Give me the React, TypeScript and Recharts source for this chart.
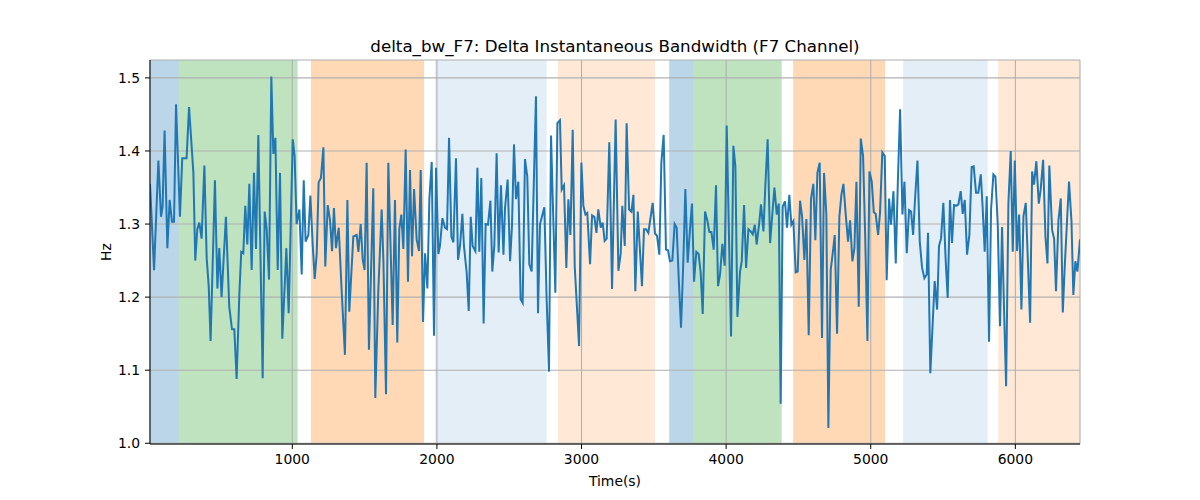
import React from 'react';
import {
  LineChart,
  Line,
  XAxis,
  YAxis,
  CartesianGrid,
  ReferenceArea,
  Label,
} from 'recharts';

// sample times (s), one block per stretch of the recording
const seconds = [
  16, 44, 74, 92, 103, 117, 136, 152, 168, 182, 196, 223, 239, 269, 286, 316, 329, 343, 357, 373,
  392, 408, 422, 435, 465, 482, 495, 511, 541, 564, 583, 599, 615, 634, 647, 661, 675, 689, 703, 719,
  735, 749, 765,
  795, 809, 823, 839, 855, 869, 883, 899, 915, 931, 959, 975, 1003, 1016, 1030, 1049, 1065, 1079, 1092, 1111,
  1125, 1141, 1155, 1169, 1182, 1198, 1215, 1228, 1245, 1261, 1275, 1288, 1302, 1321, 1341, 1364, 1381, 1394, 1422, 1445,
  1457, 1473, 1487, 1500, 1514, 1530, 1560, 1574, 1595,
  1618, 1630, 1648, 1664, 1694, 1710, 1726, 1740, 1754, 1768, 1784, 1800, 1814, 1828, 1842, 1860, 1876, 1888, 1904, 1918,
  1934, 1948, 1964, 1980, 1994, 2010, 2021, 2038, 2056, 2070, 2084, 2100, 2114, 2132, 2146, 2160, 2176, 2187, 2206, 2220,
  2234, 2247, 2266, 2280, 2293, 2307, 2323, 2337, 2353, 2370, 2383, 2397, 2413, 2427,
  2443, 2460, 2471, 2489, 2506, 2519, 2533, 2547, 2563, 2579, 2593, 2609, 2625, 2639, 2655, 2685, 2699, 2713, 2743, 2759,
  2775, 2789, 2819, 2833, 2851, 2863, 2879, 2895, 2909, 2923, 2939, 2953, 2983, 2999, 3013, 3027, 3040, 3059, 3073, 3089,
  3103, 3116, 3133, 3146, 3160, 3174, 3192, 3211, 3236, 3255,
  3271, 3282, 3299, 3312, 3329, 3345, 3359, 3372, 3389, 3418, 3432, 3446, 3462, 3492, 3508, 3522, 3538, 3552, 3568, 3584,
  3598, 3612, 3628, 3644, 3658, 3672, 3688, 3704, 3718, 3734, 3750, 3764, 3778, 3794, 3810, 3824, 3838, 3854, 3870, 3884,
  3898, 3914, 3930, 3944, 3958, 3974, 3990, 4004, 4034, 4050, 4064, 4078,
  4096, 4108, 4124, 4138, 4154, 4170, 4184, 4198, 4211, 4228, 4241, 4258, 4271, 4287, 4304, 4320, 4334, 4350, 4364, 4377,
  4391, 4407, 4421, 4437, 4451, 4465, 4481, 4495, 4511, 4525, 4541, 4555, 4571, 4587, 4603, 4617, 4631, 4647, 4663, 4677,
  4693, 4707, 4723, 4737, 4751, 4767, 4783, 4797, 4811, 4827, 4843, 4857, 4873, 4887, 4901, 4917,
  4931, 4947, 4961, 4977, 4991, 5007, 5021, 5034, 5051, 5064, 5080, 5097, 5110, 5127, 5140, 5157, 5173, 5187, 5203, 5219,
  5233, 5249, 5265, 5279, 5293, 5306, 5323, 5339, 5355, 5371, 5387, 5396, 5412, 5442, 5459, 5472, 5486, 5502, 5518, 5532,
  5548, 5562, 5576, 5592, 5606,
  5622, 5636, 5650, 5666, 5682, 5698, 5712, 5728, 5744, 5761, 5774, 5788, 5802, 5818, 5832, 5848, 5862, 5878, 5894, 5908,
  5922, 5936, 5952, 5968, 5982, 5996, 6012, 6026, 6042, 6056, 6072, 6102, 6116, 6129, 6145, 6162, 6175, 6192, 6208, 6222,
  6235, 6254, 6268, 6281, 6298, 6314, 6328, 6341, 6355, 6371, 6388, 6401, 6415, 6429, 6447,
];

// delta instantaneous bandwidth, F7 channel (Hz)
const bandwidthHz = [
  1.355, 1.237, 1.387, 1.31, 1.324, 1.428, 1.267, 1.333, 1.303, 1.303, 1.464, 1.31, 1.39, 1.39, 1.46, 1.37, 1.25, 1.293, 1.302, 1.28,
  1.38, 1.253, 1.215, 1.14, 1.36, 1.212, 1.267, 1.2, 1.31, 1.187, 1.156, 1.156, 1.088, 1.205, 1.262, 1.26, 1.325, 1.272, 1.355, 1.237,
  1.37, 1.266, 1.422,
  1.089, 1.317, 1.293, 1.224, 1.502, 1.396, 1.418, 1.237, 1.37, 1.143, 1.267, 1.178, 1.416, 1.393, 1.3, 1.32, 1.231, 1.36, 1.276, 1.285,
  1.339, 1.272, 1.225, 1.26, 1.357, 1.363, 1.405, 1.242, 1.326, 1.305, 1.263, 1.322, 1.267, 1.295, 1.21, 1.121, 1.333, 1.18, 1.283, 1.285,
  1.262, 1.3, 1.251, 1.237, 1.384, 1.128, 1.349, 1.062, 1.21,
  1.32, 1.25, 1.067, 1.384, 1.162, 1.333, 1.138, 1.293, 1.313, 1.266, 1.402, 1.221, 1.374, 1.256, 1.348, 1.279, 1.263, 1.374, 1.166, 1.26,
  1.212, 1.335, 1.385, 1.147, 1.377, 1.259, 1.27, 1.308, 1.295, 1.293, 1.418, 1.283, 1.275, 1.39, 1.251, 1.27, 1.314, 1.27, 1.233, 1.181,
  1.31, 1.27, 1.263, 1.377, 1.262, 1.363, 1.164, 1.3, 1.299, 1.332, 1.235, 1.27, 1.397, 1.261,
  1.353, 1.258, 1.322, 1.361, 1.249, 1.297, 1.409, 1.334, 1.358, 1.197, 1.192, 1.389, 1.365, 1.245, 1.235, 1.475, 1.178, 1.3, 1.323, 1.196,
  1.098, 1.421, 1.206, 1.438, 1.442, 1.347, 1.353, 1.24, 1.334, 1.285, 1.429, 1.242, 1.133, 1.384, 1.325, 1.313, 1.315, 1.245, 1.312, 1.31,
  1.288, 1.32, 1.295, 1.302, 1.277, 1.28, 1.412, 1.211, 1.443, 1.236,
  1.26, 1.325, 1.27, 1.438, 1.32, 1.317, 1.34, 1.208, 1.317, 1.215, 1.293, 1.293, 1.288, 1.329, 1.287, 1.284, 1.258, 1.384, 1.422, 1.265,
  1.264, 1.249, 1.25, 1.3, 1.295, 1.226, 1.158, 1.249, 1.348, 1.247, 1.293, 1.328, 1.221, 1.262, 1.259, 1.233, 1.177, 1.317, 1.305, 1.289,
  1.289, 1.265, 1.353, 1.215, 1.231, 1.273, 1.243, 1.435, 1.146, 1.407, 1.379, 1.173,
  1.235, 1.249, 1.326, 1.24, 1.293, 1.29, 1.286, 1.299, 1.272, 1.3, 1.327, 1.29, 1.352, 1.416, 1.274, 1.315, 1.35, 1.313, 1.328, 1.054,
  1.324, 1.331, 1.295, 1.34, 1.299, 1.304, 1.234, 1.235, 1.332, 1.311, 1.251, 1.307, 1.148, 1.335, 1.355, 1.278, 1.37, 1.384, 1.144, 1.37,
  1.313, 1.021, 1.237, 1.26, 1.285, 1.15, 1.31, 1.34, 1.355, 1.313, 1.276, 1.305, 1.249, 1.267, 1.358, 1.187,
  1.417, 1.393, 1.288, 1.14, 1.372, 1.358, 1.316, 1.314, 1.285, 1.315, 1.398, 1.393, 1.223, 1.335, 1.299, 1.345, 1.246, 1.355, 1.457, 1.313,
  1.358, 1.26, 1.319, 1.317, 1.285, 1.333, 1.387, 1.276, 1.24, 1.226, 1.231, 1.288, 1.096, 1.222, 1.183, 1.27, 1.28, 1.329, 1.251, 1.199,
  1.333, 1.274, 1.326, 1.325, 1.327,
  1.345, 1.314, 1.333, 1.258, 1.285, 1.378, 1.379, 1.343, 1.343, 1.368, 1.322, 1.262, 1.338, 1.139, 1.32, 1.368, 1.365, 1.3, 1.16, 1.296,
  1.181, 1.078, 1.329, 1.4, 1.262, 1.387, 1.263, 1.313, 1.183, 1.311, 1.329, 1.165, 1.372, 1.354, 1.386, 1.328, 1.347, 1.388, 1.283, 1.246,
  1.38, 1.292, 1.28, 1.208, 1.305, 1.335, 1.179, 1.24, 1.295, 1.358, 1.304, 1.203, 1.249, 1.235, 1.279,
];

// labelled stretches of the recording
const spanStart = [16, 216, 1129, 1987, 2837, 3606, 3776, 4463, 5224, 5881];
const spanEnd = [216, 1037, 1911, 2759, 3508, 3776, 4384, 5099, 5809, 6447];
const spanKind = ['a', 'b', 'c', 'd', 'e', 'a', 'b', 'c', 'd', 'e'];

const xTicks = [1000, 2000, 3000, 4000, 5000, 6000];
const yTicks = [1.0, 1.1, 1.2, 1.3, 1.4, 1.5];

const SPAN_STYLE: Record<string, { fill: string; opacity: number }> = {
  a: { fill: '#1f77b4', opacity: 0.3 },
  b: { fill: '#2ca02c', opacity: 0.3 },
  c: { fill: '#ff7f0e', opacity: 0.3 },
  d: { fill: '#1f77b4', opacity: 0.12 },
  e: { fill: '#ff7f0e', opacity: 0.17 },
};

const data = seconds.map((t, i) => ({ t, bw: bandwidthHz[i] }));

const X_DOMAIN: [number, number] = [16, 6447];
const Y_DOMAIN: [number, number] = [0.999, 1.5245];
const tickStyle = { fill: '#000', fontSize: 13.9 };

export default function App() {
  return (
    <div
      style={{
        position: 'absolute',
        left: 0,
        top: 0,
        width: 1200,
        height: 500,
        background: '#fff',
        fontFamily: '"DejaVu Sans", sans-serif',
      }}
    >
      <div
        style={{
          position: 'absolute',
          left: 150,
          top: 36,
          width: 930,
          textAlign: 'center',
          fontSize: 16.7,
          color: '#000',
          lineHeight: 'normal',
        }}
      >
        delta_bw_F7: Delta Instantaneous Bandwidth (F7 Channel)
      </div>
      <LineChart
        width={1200}
        height={500}
        data={data}
        margin={{ top: 60, right: 120, bottom: 0, left: 0 }}
      >
        {spanStart.map((s, i) => (
          <ReferenceArea
            key={`span-${i}`}
            x1={s}
            x2={spanEnd[i]}
            fill={SPAN_STYLE[spanKind[i]].fill}
            fillOpacity={SPAN_STYLE[spanKind[i]].opacity}
            stroke="none"
            zIndex={-200}
          />
        ))}
        <CartesianGrid stroke="#b0b0b0" strokeWidth={1.1} zIndex={-100} />
        <XAxis
          type="number"
          dataKey="t"
          domain={X_DOMAIN}
          ticks={xTicks}
          allowDataOverflow
          height={56}
          stroke="#000"
          tickSize={5}
          tickMargin={5}
          tick={tickStyle}
        >
          <Label
            content={() => (
              <text x={615} y={486} textAnchor="middle" fontSize={13.9} fill="#000">
                Time(s)
              </text>
            )}
          />
        </XAxis>
        <XAxis
          xAxisId="top"
          orientation="top"
          type="number"
          domain={X_DOMAIN}
          allowDataOverflow
          height={0}
          stroke="#000"
          tick={false}
          tickLine={false}
        />
        <YAxis
          domain={Y_DOMAIN}
          ticks={yTicks}
          allowDataOverflow
          width={150}
          stroke="#000"
          tickSize={5}
          tickMargin={5}
          tick={tickStyle}
          tickFormatter={(v: number) => v.toFixed(1)}
        >
          <Label
            content={() => (
              <text
                x={106}
                y={252}
                transform="rotate(-90 106 252)"
                textAnchor="middle"
                dominantBaseline="central"
                fontSize={13.9}
                fill="#000"
              >
                Hz
              </text>
            )}
          />
        </YAxis>
        <YAxis
          yAxisId="right"
          orientation="right"
          domain={Y_DOMAIN}
          allowDataOverflow
          width={0}
          stroke="#000"
          tick={false}
          tickLine={false}
        />
        <Line
          type="linear"
          dataKey="bw"
          stroke="#1f77b4"
          strokeWidth={2}
          dot={false}
          isAnimationActive={false}
        />
      </LineChart>
    </div>
  );
}
